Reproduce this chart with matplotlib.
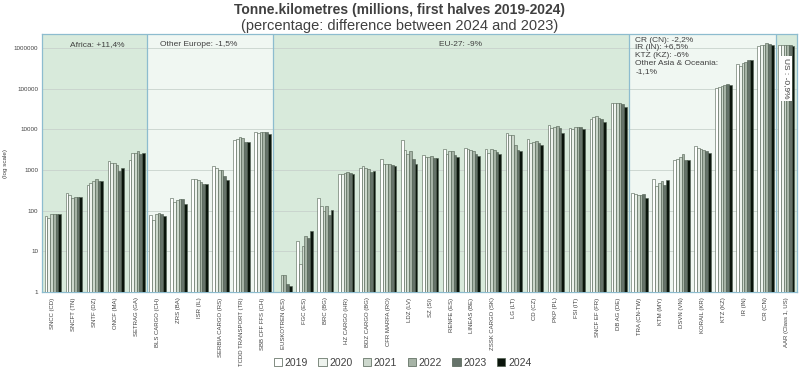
import numpy as np
import matplotlib
matplotlib.use("Agg")
import matplotlib.pyplot as plt
from matplotlib.patches import Patch

plt.rcParams['font.family'] = ['Liberation Sans', 'DejaVu Sans']

categories = [
    "SNCC (CD)", "SNCFT (TN)", "SNTF (DZ)", "ONCF (MA)", "SETRAG (GA)",
    "BLS CARGO (CH)", "ZRS (BA)", "ISR (IL)", "SERBIA CARGO (RS)", "TCDD TRANSPORT (TR)", "SBB CFF FFS (CH)",
    "EUSKOTREN (ES)", "FGC (ES)", "BRC (BG)", "HZ CARGO (HR)", "BDZ CARGO (BG)", "CFR MARFA (RO)",
    "LDZ (LV)", "SZ (SI)", "RENFE (ES)", "LINEAS (BE)", "ZSSK CARGO (SK)", "LG (LT)", "CD (CZ)",
    "PKP (PL)", "FSI (IT)", "SNCF EF (FR)", "DB AG (DE)",
    "TRA (CN-TW)", "KTM (MY)", "DSVN (VN)", "KORAIL (KR)", "KTZ (KZ)", "IR (IN)", "CR (CN)",
    "AAR (Class 1, US)",
]

years = ["2019", "2020", "2021", "2022", "2023", "2024"]

v2019 = [75, 270, 430, 1620, 1750, 80, 200, 600, 1250, 5400, 8500,
         np.nan, 18, 200, 820, 1100, 1900, 5400, 2300, 3300, 3550, 3350, 8100, 5700,
         12800, 10600, 18400, 43600,
         267, 590, 1750, 3800, 107000, 400000, 1100000, 1220000]
v2020 = [65, 240, 470, 1500, 2550, 60, 165, 600, 1100, 5800, 8200,
         np.nan, 4.9, 128, 820, 1250, 1400, 3100, 2050, 2500, 3250, 2600, 7400, 4750,
         10600, 10400, 20300, 45400,
         252, 410, 1850, 3500, 112000, 366000, 1160000, 1180000]
v2021 = [82, 205, 530, 1500, 2550, 82, 180, 560, 1000, 6500, 8600,
         2.6, 13.4, 100, 830, 1130, 1400, 2450, 2100, 2950, 3130, 3250, 7100, 4900,
         11700, 11200, 21900, 43600,
         247, 480, 2130, 3360, 114000, 434000, 1220000, 1200000]
v2022 = [82, 215, 600, 1300, 2900, 88, 190, 520, 1000, 6000, 8500,
         2.6, 23.6, 128, 870, 1060, 1400, 2950, 2150, 3000, 3000, 3180, 4050, 5200,
         12400, 11200, 19500, 45400,
         247, 545, 2450, 3180, 123000, 466000, 1310000, 1200000]
v2023 = [82, 220, 540, 950, 2450, 82, 195, 450, 730, 4800, 8500,
         1.55, 21, 80, 830, 900, 1350, 1900, 1960, 2400, 2450, 2800, 3130, 4750,
         10600, 11200, 17700, 41000,
         252, 434, 1810, 3000, 134000, 495000, 1260000, 1170000]
v2024 = [84, 215, 540, 1150, 2650, 72, 150, 450, 570, 5000, 7900,
         1.4, 31.8, 104, 800, 960, 1270, 1420, 1925, 2100, 2150, 2450, 2860, 4080,
         8350, 10000, 15100, 35000,
         203, 576, 1810, 2640, 121000, 505000, 1200000, 1150000]

series = [v2019, v2020, v2021, v2022, v2023, v2024]

regions = ["Africa", "Other Europe", "EU-27", "Asia", "US"]
region_sizes = [5, 6, 17, 7, 1]

bar_colors = ["#ffffff", "#eef3ee", "#cdd8cd", "#a6b3a6", "#66736a", "#0a140b"]
edge_color = "#4f5f50"
bg_colors = ["#d8eadb", "#f0f7f2", "#d8eadb", "#f0f7f2", "#d8eadb"]
border_color = "#8dbccf"
text_color = "#404040"

fig = plt.figure(figsize=(8, 3.77), dpi=100)
ax = fig.add_axes([0.053, 0.2255, 0.943, 0.684])

n = len(categories)
x = np.arange(n)
bw = 0.78 / 6
for i, (vals, col) in enumerate(zip(series, bar_colors)):
    ax.bar(x + (i - 2.5) * bw, vals, width=bw, color=col, edgecolor=edge_color,
           linewidth=0.4, zorder=3, label=years[i])

ax.set_yscale("log")
ax.set_ylim(1, 2.2e6)
ax.set_xlim(-0.5, n - 0.5)

# region backgrounds
start = -0.5
bounds = []
for size, c in zip(region_sizes, bg_colors):
    ax.axvspan(start, start + size, color=c, zorder=0, lw=0)
    bounds.append((start, start + size))
    start += size
for b in bounds[:-1]:
    ax.axvline(b[1], color=border_color, lw=0.9, zorder=4)

for s in ax.spines.values():
    s.set_color(border_color)
    s.set_linewidth(0.9)

ax.set_yticks([1, 10, 100, 1000, 10000, 100000, 1000000])
ax.set_yticklabels(["1", "10", "100", "1000", "10000", "100000", "1000000"])
ax.yaxis.set_minor_locator(matplotlib.ticker.NullLocator())
ax.tick_params(axis="y", labelsize=4.5, colors=text_color, length=0, pad=3)
ax.grid(axis="y", color="#c8d2cc", lw=0.6, zorder=1)

ax.set_xticks(x)
ax.set_xticklabels(categories, rotation=90, fontsize=4.3, color=text_color)
ax.tick_params(axis="x", length=0, pad=4)

ax.set_ylabel("(log scale)", fontsize=4.5, color=text_color, labelpad=4)

# annotations
ax.text(2.1, 1.25e6, "Africa: +11,4%", fontsize=6, color=text_color, ha="center", va="center", zorder=5)
ax.text(6.95, 1.25e6, "Other Europe: -1,5%", fontsize=6, color=text_color, ha="center", va="center", zorder=5)
ax.text(19.45, 1.25e6, "EU-27: -9%", fontsize=6, color=text_color, ha="center", va="center", zorder=5)
ax.text(27.8, 1.9e6, "CR (CN): -2,2%\nIR (IN): +6,5%\nKTZ (KZ): -6%\nOther Asia & Oceania:\n-1,1%",
        fontsize=6, color=text_color, ha="left", va="top", linespacing=1.15, zorder=5)
ax.text(35.0, 1.8e5, "US : -0,9%", fontsize=6, color=text_color, ha="center", va="center",
        rotation=270, zorder=6,
        bbox=dict(boxstyle="square,pad=0.3", fc="white", ec="none"))

fig.text(0.5, 0.973, "Tonne.kilometres (millions, first halves 2019-2024)", ha="center", va="center",
         fontsize=10, fontweight="bold", color=text_color)
fig.text(0.5, 0.93, "(percentage: difference between 2024 and 2023)", ha="center", va="center",
         fontsize=10.5, color=text_color)

handles = [Patch(facecolor=c, edgecolor=edge_color, linewidth=0.5, label=y) for c, y in zip(bar_colors, years)]
fig.legend(handles=handles, loc="center", bbox_to_anchor=(0.503, 0.037), ncol=6, frameon=False,
           fontsize=7.5, handlelength=0.8, handleheight=0.8, handletextpad=0.25, columnspacing=1.0,
           labelcolor=text_color)

fig.savefig("out.png", dpi=100)
